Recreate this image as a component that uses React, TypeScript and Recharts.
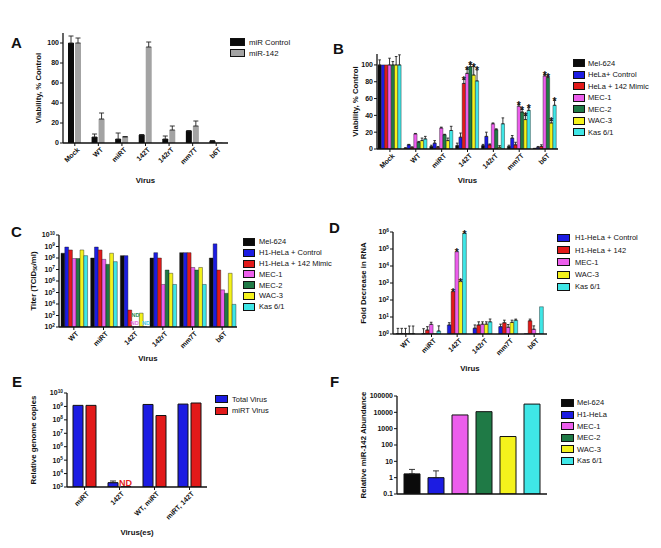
import React from 'react'
import { BarChart, Bar, XAxis, YAxis, ErrorBar, LabelList } from 'recharts'

const FONT = '"Liberation Sans", Arial, Helvetica, sans-serif'

const BLACK = '#0b0b0b'
const BLUE = '#1c1ce2'
const RED = '#e21a1a'
const MAGENTA = '#ec5eec'
const GREEN = '#1f7a46'
const YELLOW = '#f4f21c'
const CYAN = '#3fe6e6'
const GRAY = '#a3a3a3'

// ---- A: viability, miR control vs miR-142
const virusesA = ['Mock', 'WT', 'miRT', '142T', '142rT', 'mm7T', 'b6T']
const ctrlA = [100, 6, 4, 8, 4, 12, 2]
const ctrlErrA = [7, 3, 6, 0.5, 3, 0.5, 0.5]
const mir142A = [100, 24, 6, 96, 13, 17, 0.6]
const mir142ErrA = [5, 6, 0.5, 5, 4, 5, 0]

// ---- B: viability per cell line
const virusesB = ['Mock', 'WT', 'miRT', '142T', '142rT', 'mm7T', 'b6T']
const cellsB = ['Mel-624', 'HeLa+ Control', 'HeLa + 142 Mimic', 'MEC-1', 'MEC-2', 'WAC-3', 'Kas 6/1']
const melB = [100, 1, 3, 4, 4, 3, 1]
const melErrB = [6, 0.5, 1.5, 3, 1.5, 1.5, 0]
const helaCtrlB = [100, 5, 7, 14, 15, 13, 2]
const helaCtrlErrB = [0, 0.5, 3, 5, 5, 3, 1]
const helaMimicB = [100, 2, 2, 78, 5, 5, 3]
const helaMimicErrB = [0, 0.5, 1, 5, 1, 3, 2]
const mec1B = [100, 18, 25, 90, 30, 51, 87]
const mec1ErrB = [8, 0.5, 1, 5, 1, 2, 1.5]
const mec2B = [100, 8, 17, 98, 23, 44, 85]
const mec2ErrB = [4, 1, 0.5, 3, 1, 3, 1.5]
const wac3B = [100, 10, 10, 88, 2, 35, 31]
const wac3ErrB = [10, 3, 3, 10, 2, 5, 3]
const kasB = [100, 12, 22, 81, 30, 46, 52]
const kasErrB = [12, 3, 5, 13, 7, 3, 6]
const starsMimicB = ['142T']
const starsTumorB = ['142T', 'mm7T', 'b6T']

// ---- C: titer (TCID50/ml), null = ND
const virusesC = ['WT', 'miRT', '142T', '142rT', 'mm7T', 'b6T']
const cellsC = ['Mel-624', 'H1-HeLa + Control', 'H1-HeLa + 142 Mimic', 'MEC-1', 'MEC-2', 'WAC-3', 'Kas 6/1']
const melC = [2.6e8, 1e8, 1.6e8, 1e8, 2.9e8, 1e8]
const helaCtrlC = [9e8, 9e8, 1.6e8, 2.9e8, 2.9e8, 1.7e9]
const helaMimicC = [5e8, 5e8, 3e3, 1e8, 2.9e8, 9e6]
const mec1C = [9e7, 7.6e7, null, 5e5, 1.5e7, 1.7e5]
const mec2C = [9e7, 2.8e7, null, 9e6, 9e6, 8.5e4]
const wac3C = [5e8, 2.6e8, 1.6e3, 4.7e6, 1.5e7, 4.7e6]
const kasC = [1.6e8, 4.8e7, null, 5e5, 5e5, 9.3e3]

// ---- D: fold decrease in RNA
const virusesD = ['WT', 'miRT', '142T', '142rT', 'mm7T', 'b6T']
const cellsD = ['H1-HeLa + Control', 'H1-HeLa + 142', 'MEC-1', 'WAC-3', 'Kas 6/1']
const helaCtrlD = [1.05, 1.05, 3.4, 2.2, 2.7, 1.05]
const helaCtrlErrD = [1.1, 1, 1.2, 1.2, 1.1, 0]
const hela142D = [1.05, 1.7, 310, 3.4, 4.6, 6]
const hela142ErrD = [1.1, 1, 0, 1.8, 1.9, 1.5]
const mec1D = [1.05, 3.7, 6.9e4, 3.8, 2.5, 1.9]
const mec1ErrD = [1.1, 1.2, 0, 1.4, 1.1, 1.1]
const wac3D = [1.05, 1.05, 1200, 3.8, 4.8, 1.05]
const wac3ErrD = [1.9, 0, 0, 1.4, 1.7, 0]
const kasD = [1.05, 1.5, 8.4e5, 5.2, 6.5, 40]
const kasErrD = [1.9, 1.5, 0, 2.4, 1, 0]
const starsD = ['142T']

// ---- E: relative genome copies, null = ND
const virusesE = ['miRT', '142T', 'WT, miRT', 'miRT, 142T']
const totalE = [1.2e9, 2.1e3, 1.4e9, 1.5e9]
const totalErrE = [0, 700, 0, 0]
const mirtE = [1.2e9, null, 2.1e8, 1.8e9]

// ---- F: relative miR-142 abundance
const cellsF = ['Mel-624', 'H1-HeLa', 'MEC-1', 'MEC-2', 'WAC-3', 'Kas 6/1']
const abundF = [1.7, 1.0, 6900, 11000, 330, 32000]
const abundErrF = [1.5, 1.6, 0, 0, 0, 0]

type ND = { color: string; dx: number; dy: number; fs: number }
type S = { key: string; name: string; color: string; vals: (number | null)[]; errs?: number[]; stars?: string[]; nd?: ND }

function buildRows(cats: string[], series: S[], base: number) {
  return cats.map((c, i) => {
    const r: Record<string, any> = { name: c }
    for (const s of series) {
      const v = s.vals[i]
      r[s.key] = v == null ? base * 1.03 : v
      r[s.key + '_nd'] = v == null ? 'ND' : null
      const e = s.errs ? s.errs[i] : 0
      r[s.key + '_e'] = e > 0 ? [0, e] : null
      r[s.key + '_star'] = s.stars && s.stars.includes(c) && v != null ? `${v}|${e}` : null
    }
    return r
  })
}

const seriesA: S[] = [
  { key: 'ctrl', name: 'miR Control', color: BLACK, vals: ctrlA, errs: ctrlErrA },
  { key: 'm142', name: 'miR-142', color: GRAY, vals: mir142A, errs: mir142ErrA },
]
const colors7 = [BLACK, BLUE, RED, MAGENTA, GREEN, YELLOW, CYAN]
const seriesB: S[] = [
  [melB, melErrB], [helaCtrlB, helaCtrlErrB], [helaMimicB, helaMimicErrB], [mec1B, mec1ErrB],
  [mec2B, mec2ErrB], [wac3B, wac3ErrB], [kasB, kasErrB],
].map(([v, e], i) => ({
  key: 'b' + i, name: cellsB[i], color: colors7[i], vals: v, errs: e,
  stars: i === 2 ? starsMimicB : i >= 3 ? starsTumorB : undefined,
}))
const ndStyleC: Record<number, ND> = {
  3: { color: '#e36ee0', dx: -1, dy: -1.5, fs: 5.5 },
  4: { color: '#2c8a50', dx: -4, dy: -9.5, fs: 5.5 },
  6: { color: '#44c8e8', dx: -1, dy: -1.5, fs: 5.5 },
}
const seriesC: S[] = [melC, helaCtrlC, helaMimicC, mec1C, mec2C, wac3C, kasC]
  .map((v, i) => ({ key: 'c' + i, name: cellsC[i], color: colors7[i], vals: v, nd: ndStyleC[i] }))
const colorsD = [BLUE, RED, MAGENTA, YELLOW, CYAN]
const seriesD: S[] = [
  [helaCtrlD, helaCtrlErrD], [hela142D, hela142ErrD], [mec1D, mec1ErrD], [wac3D, wac3ErrD], [kasD, kasErrD],
].map(([v, e], i) => ({ key: 'd' + i, name: cellsD[i], color: colorsD[i], vals: v, errs: e, stars: i >= 1 ? starsD : undefined }))
const seriesE: S[] = [
  { key: 'tot', name: 'Total  Virus', color: BLUE, vals: totalE, errs: totalErrE },
  { key: 'mirt', name: 'miRT Virus', color: RED, vals: mirtE, nd: { color: RED, dx: -2, dy: -1, fs: 9 } },
]
const colorsF = [BLACK, BLUE, MAGENTA, GREEN, YELLOW, CYAN]
const seriesF: S[] = cellsF.map((c, i) => ({ key: 'f' + i, name: c, color: colorsF[i], vals: [abundF[i]], errs: [abundErrF[i]] }))

const rowsA = buildRows(virusesA, seriesA, 0)
const rowsB = buildRows(virusesB, seriesB, 0)
const rowsC = buildRows(virusesC, seriesC, 1e2)
const rowsD = buildRows(virusesD, seriesD, 1)
const rowsE = buildRows(virusesE, seriesE, 1e3)
const rowsF = buildRows([''], seriesF, 0.1)

const tickStyle = { fontSize: 7, fontWeight: 700, fill: '#111', fontFamily: FONT }
const titleStyle = { fontSize: 7.8, fontWeight: 700, fill: '#111', fontFamily: FONT }
const axisLine = { stroke: '#111', strokeWidth: 1.3 }

const RotTick = (p: any) => (
  <g transform={`translate(${p.x + 3},${p.y})`}>
    <text textAnchor="end" transform="rotate(-45)" dy={3} style={tickStyle}>{p.payload.value}</text>
  </g>
)

const PowTick = (p: any) => {
  const e = Math.round(Math.log10(p.payload.value))
  return (
    <text x={p.x} y={p.y} dy={2.4} textAnchor="end" style={tickStyle}>
      10<tspan dy={-2.8} fontSize={4.8}>{e}</tspan>
    </text>
  )
}

const boxOf = (p: any) => (p.viewBox && p.viewBox.width != null ? p.viewBox : p)

function starContent(log: boolean, base: number) {
  return (p: any) => {
    if (!p.value) return null
    const [v, e] = String(p.value).split('|').map(Number)
    const vb = boxOf(p)
    const x = Number(vb.x), y = Number(vb.y), w = Number(vb.width), h = Math.abs(Number(vb.height))
    const k = log ? h / Math.log10(v / base) : h / (v - base)
    const rise = log ? k * Math.log10((v + e) / v) : k * e
    return (
      <text x={x + w / 2} y={y - rise + 4.5} textAnchor="middle" fontSize={10.5} fontWeight={700} fill="#111" fontFamily={FONT}>*</text>
    )
  }
}

function ndContent(nd: ND) {
  return (p: any) => {
    if (!p.value) return null
    const vb = boxOf(p)
    return (
      <text x={Number(vb.x) + nd.dx} y={Number(vb.y) + nd.dy} fontSize={nd.fs} fontWeight={700} fill={nd.color} fontFamily={FONT}>ND</text>
    )
  }
}

const YW = 50
const MT = 6

type G = { x0: number; x1: number; top: number; bot: number; labelY: number; yLabelX: number }

function GroupChart(props: {
  g: G
  rows: any[]
  series: S[]
  yLabel: React.ReactNode
  xLabel?: string
  log?: boolean
  domain: [number, number]
  ticks: number[]
  pow?: boolean
  barSize: number
  barGap: number
  strokeW: number
  errW: number
  rot?: boolean
}) {
  const { g } = props
  const xh = g.labelY - g.bot + 10
  const w = YW + g.x1 - g.x0 + 2
  const h = MT + g.bot - g.top + xh
  const left = g.x0 - YW
  const top = g.top - MT
  return (
    <div style={{ position: 'absolute', left, top }}>
      <BarChart width={w} height={h} data={props.rows} margin={{ top: MT, right: 2, bottom: 0, left: 0 }}
        barGap={props.barGap} barSize={props.barSize}>
        <XAxis dataKey="name" interval={0} height={xh} axisLine={axisLine} tickLine={{ stroke: '#111', strokeWidth: 1 }}
          tickSize={3} tick={props.rot === false ? false : <RotTick />}
          label={{
            content: () => props.xLabel ? (
              <text x={(g.x0 + g.x1) / 2 - left} y={g.labelY - top} textAnchor="middle" dominantBaseline="central" style={titleStyle}>{props.xLabel}</text>
            ) : null,
          }} />
        <YAxis width={YW} type="number" scale={props.log ? 'log' : 'linear'} domain={props.domain} allowDataOverflow
          ticks={props.ticks} interval={0} axisLine={axisLine} tickLine={{ stroke: '#111', strokeWidth: 1 }} tickSize={3}
          tickMargin={1} tick={props.pow ? <PowTick /> : tickStyle}
          label={{
            content: () => (
              <text transform={`translate(${g.yLabelX - left},${MT + (g.bot - g.top) / 2}) rotate(-90)`} textAnchor="middle"
                dominantBaseline="central" style={titleStyle}>{props.yLabel}</text>
            ),
          }} />
        {props.series.map((s) => (
          <Bar key={s.key} dataKey={s.key} fill={s.color} stroke="#111" strokeWidth={props.strokeW} isAnimationActive={false}>
            {s.errs ? <ErrorBar dataKey={s.key + '_e'} width={props.errW} stroke="#222" strokeWidth={0.9} /> : null}
            {s.stars ? <LabelList dataKey={s.key + '_star'} content={starContent(!!props.log, props.domain[0])} /> : null}
            {s.nd ? <LabelList dataKey={s.key + '_nd'} content={ndContent(s.nd)} /> : null}
          </Bar>
        ))}
      </BarChart>
    </div>
  )
}

function Legend2({ series, x, y, step, sw, tx, fs = 7.5 }: { series: S[]; x: number; y: number; step: number; sw: number; tx: number; fs?: number }) {
  return (
    <>
      {series.map((s, i) => (
        <div key={s.key} style={{ position: 'absolute', left: x, top: y + i * step - step / 2, height: step, display: 'flex', alignItems: 'center', whiteSpace: 'nowrap', fontSize: fs, color: '#111' }}>
          <span style={{ width: sw, height: 8, background: s.color, border: '1px solid #111', boxSizing: 'border-box' }} />
          <span style={{ marginLeft: tx - x - sw }}>{s.name}</span>
        </div>
      ))}
    </>
  )
}

function Letter({ ch, x, y }: { ch: string; x: number; y: number }) {
  return <div style={{ position: 'absolute', left: x, top: y, fontSize: 15, fontWeight: 700, lineHeight: '15px', color: '#111' }}>{ch}</div>
}

const decades = (a: number, b: number) => Array.from({ length: b - a + 1 }, (_, i) => Math.pow(10, a + i))

export default function App() {
  return (
    <div style={{ position: 'absolute', left: 0, top: 0, width: 661, height: 548, background: '#fff', fontFamily: FONT, overflow: 'hidden' }}>
      {/* A */}
      <Letter ch="A" x={11} y={35} />
      <GroupChart g={{ x0: 63, x1: 228, top: 33, bot: 143, labelY: 180, yLabelX: 38 }} rows={rowsA} series={seriesA}
        yLabel="Viability, % Control" xLabel="Virus" domain={[0, 110]} ticks={[0, 20, 40, 60, 80, 100]}
        barSize={6} barGap={1} strokeW={0} errW={2.5} />
      <Legend2 series={seriesA} x={230} y={42} step={11} sw={15} tx={249} fs={7.8} />

      {/* B */}
      <Letter ch="B" x={333} y={41} />
      <GroupChart g={{ x0: 377, x1: 558, top: 54, bot: 149, labelY: 180, yLabelX: 355 }} rows={rowsB} series={seriesB}
        yLabel="Viability, % Control" xLabel="Virus" domain={[0, 113]} ticks={[0, 20, 40, 60, 80, 100]}
        barSize={3.3} barGap={0} strokeW={0.4} errW={1.3} />
      <Legend2 series={seriesB} x={573} y={63} step={11.5} sw={12} tx={588} />

      {/* C */}
      <Letter ch="C" x={11} y={224} />
      <GroupChart g={{ x0: 59, x1: 237, top: 235, bot: 327, labelY: 358, yLabelX: 33 }} rows={rowsC} series={seriesC}
        yLabel={<>Titer (TCID<tspan dy={1.6} fontSize={5}>50</tspan><tspan dy={-1.6}>/ml)</tspan></>} xLabel="Virus"
        log pow domain={[1e2, 1e10]} ticks={decades(2, 10)}
        barSize={3.8} barGap={0} strokeW={0.4} errW={1.3} />
      <Legend2 series={seriesC} x={243} y={242} step={10.8} sw={12} tx={259} />

      {/* D */}
      <Letter ch="D" x={329} y={220} />
      <GroupChart g={{ x0: 393, x1: 547, top: 232, bot: 334, labelY: 368, yLabelX: 363 }} rows={rowsD} series={seriesD}
        yLabel="Fold Decrease in RNA" xLabel="Virus" log pow domain={[1, 1e6]} ticks={decades(0, 6)}
        barSize={3.8} barGap={0} strokeW={0.4} errW={1.3} />
      <Legend2 series={seriesD} x={557} y={238} step={12.2} sw={13} tx={575} />

      {/* E */}
      <Letter ch="E" x={12} y={374} />
      <GroupChart g={{ x0: 67, x1: 207, top: 393, bot: 487, labelY: 532, yLabelX: 33 }} rows={rowsE} series={seriesE}
        yLabel="Relative genome copies" xLabel="Virus(es)" log pow domain={[1e3, 1e10]} ticks={decades(3, 10)}
        barSize={10} barGap={3} strokeW={1} errW={3} />
      <Legend2 series={seriesE} x={215} y={399} step={11.5} sw={13} tx={232} />

      {/* F */}
      <Letter ch="F" x={330} y={374} />
      <GroupChart g={{ x0: 397, x1: 547, top: 396, bot: 494, labelY: 505, yLabelX: 363 }} rows={rowsF} series={seriesF}
        yLabel="Relative miR-142 Abundance" log domain={[0.1, 1e5]} ticks={[0.1, 1, 10, 100, 1000, 10000, 100000]}
        barSize={16} barGap={8} strokeW={1} errW={3} rot={false} />
      <Legend2 series={seriesF} x={561} y={403} step={11.6} sw={13} tx={577} />
    </div>
  )
}
